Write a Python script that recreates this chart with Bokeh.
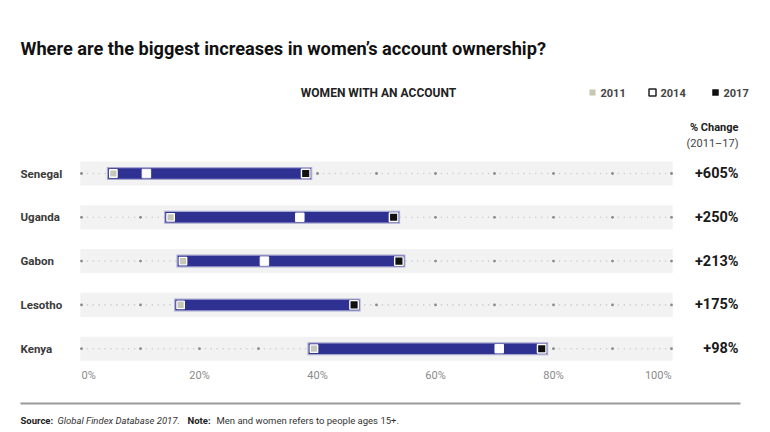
from bokeh.plotting import figure
from bokeh.models import Range1d, Label, BoxAnnotation, ColumnDataSource
from bokeh.core.properties import value
from bokeh.embed import file_html
from bokeh.resources import INLINE
import numpy as np

# Share of women (15+) with an account, by survey year (%)
countries = ["Senegal", "Uganda", "Gabon", "Lesotho", "Kenya"]
women_2011 = [5.4, 15.1, 17.2, 16.8, 39.4]
women_2014 = [11.0, 37.0, 31.0, float("nan"), 70.8]
women_2017 = [38.0, 52.9, 53.8, 46.2, 78.0]
change_labels = ["+605%", "+250%", "+213%", "+175%", "+98%"]
tick_values = [0, 20, 40, 60, 80, 100]
tick_labels = ["0%", "20%", "40%", "60%", "80%", "100%"]

FONT = "Roboto"
NAVY = "#2e3192"

rows = list(range(len(countries)))

# pixel helpers for the fixed page layout (x: 5.9 px per point, rows 43.8 px apart)
X0, PX = -13.73, 5.9
ROW0, ROWH = 173, 43.8


def sx(px):
    return X0 + px / PX


def sy(py):
    return (py - ROW0) / ROWH


p = figure(width=770, height=432, output_backend="svg", toolbar_location=None,
           x_range=Range1d(X0, X0 + 770 / PX), y_range=Range1d(sy(432), sy(0)),
           min_border=0)
p.axis.visible = False
p.grid.visible = False
p.outline_line_color = None
p.background_fill_color = "white"

# light grey track behind every country
p.hbar(y=rows, left=-0.2, right=100.2, height=0.55, fill_color="#f2f2f2",
       line_color=None)

# dotted guide: fine dots every 1%, stronger dots every 10%
fine = np.arange(0, 101, 1)
p.scatter(np.tile(fine, len(rows)), np.repeat(rows, len(fine)), size=1.6,
          marker="circle", fill_color="#cccccc", line_color=None)
major = np.arange(0, 101, 10)
p.scatter(np.tile(major, len(rows)), np.repeat(rows, len(major)), size=2.8,
          marker="circle", fill_color="#8a8a8a", line_color=None)

# range bar from 2011 to 2017
src = ColumnDataSource(dict(y=rows, a=women_2011, b=women_2014, c=women_2017))
p.segment(x0="a", x1="c", y0="y", y1="y", source=src, line_width=13,
          line_color="#a9a9d0", line_cap="square")
p.segment(x0="a", x1="c", y0="y", y1="y", source=src, line_width=10.5,
          line_color=NAVY, line_cap="square")

# year markers
p.scatter(x="a", y="y", source=src, marker="square", size=7.5,
          fill_color="#c5c7b8", line_color="white", line_width=1.3)
p.scatter(x="b", y="y", source=src, marker="square", size=8.5,
          fill_color="white", line_color="white", line_width=1)
p.scatter(x="c", y="y", source=src, marker="square", size=8.5,
          fill_color="#111111", line_color="white", line_width=1.4)

# country names
p.text(x=[sx(20)] * len(rows), y=rows, text=countries,
       text_font=value(FONT), text_font_size="11.5px", text_color="#3a3a3a",
       text_font_style="bold", text_baseline="middle", text_align="left")

# percent change column
p.text(x=[sx(738)] * len(rows), y=rows, text=change_labels,
       text_font=value(FONT), text_font_size="14.5px", text_color="#1a1a1a",
       text_font_style="bold", text_baseline="middle", text_align="right")

# x tick labels under the last row
aligns = ["left"] + ["center"] * (len(tick_values) - 2) + ["right"]
p.text(x=tick_values, y=[sy(375)] * len(tick_values), text=tick_labels,
       text_font=value(FONT), text_font_size="11px", text_color="#8a8a8a",
       text_baseline="middle", text_align=aligns)


def label(x, y, text, size, style="normal", color="#222222", align="left"):
    p.add_layout(Label(x=x, y=432 - y, x_units="screen", y_units="screen",
                       text=text, text_font=FONT, text_font_size=size,
                       text_font_style=style, text_color=color,
                       text_align=align, text_baseline="middle"))


label(20, 48, "Where are the biggest increases in women\u2019s account ownership?",
      "18.2px", "bold", "#111111")
label(378, 92, "WOMEN WITH AN ACCOUNT", "12px", "bold", "#222222", "center")

# legend
p.scatter(x=[sx(592)], y=[sy(92)], marker="square", size=6,
          fill_color="#c5c7b0", line_color=None)
label(600, 92, "2011", "11px", "bold", "#444444")
p.scatter(x=[sx(652)], y=[sy(92)], marker="square", size=7,
          fill_color="white", line_color="#222222", line_width=1.5)
label(660, 92, "2014", "11px", "bold", "#444444")
p.scatter(x=[sx(715)], y=[sy(92)], marker="square", size=6.5,
          fill_color="#111111", line_color=None)
label(723, 92, "2017", "11px", "bold", "#444444")

label(738, 127, "% Change", "11px", "bold", "#222222", "right")
label(738, 143, "(2011\u201317)", "11px", "normal", "#444444", "right")

# rule above the footnote
p.add_layout(BoxAnnotation(left=20, right=740, bottom=432 - 404, top=432 - 402,
                           left_units="screen", right_units="screen",
                           bottom_units="screen", top_units="screen",
                           fill_color="#9a9a9a", fill_alpha=1, line_color=None))

label(20, 420, "Source:", "9.5px", "bold", "#222222")
label(57, 420, "Global Findex Database 2017.", "9.5px", "italic", "#333333")
label(187, 420, "Note:", "9.5px", "bold", "#222222")
label(216, 420, "Men and women refers to people ages 15+.", "9.5px", "normal", "#333333")

open("out.html", "w").write(file_html(p, INLINE))
